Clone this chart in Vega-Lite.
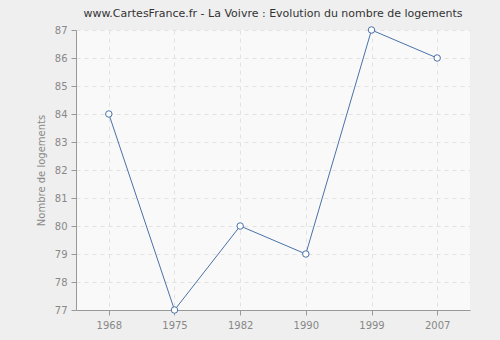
{
  "$schema": "https://vega.github.io/schema/vega-lite/v6.json",
  "width": 394,
  "height": 280,
  "autosize": {"type": "none"},
  "padding": {"left": 76, "top": 30, "right": 30, "bottom": 30},
  "background": "#efefef",
  "title": {
    "text": "www.CartesFrance.fr - La Voivre : Evolution du nombre de logements",
    "fontSize": 11,
    "font": "DejaVu Sans",
    "fontWeight": "normal",
    "color": "#333333",
    "anchor": "middle",
    "offset": 6
  },
  "data": {
    "values": [
      {"annee": "1968", "logements": 84},
      {"annee": "1975", "logements": 77},
      {"annee": "1982", "logements": 80},
      {"annee": "1990", "logements": 79},
      {"annee": "1999", "logements": 87},
      {"annee": "2007", "logements": 86}
    ]
  },
  "config": {
    "view": {"fill": "#f9f9f9", "stroke": null},
    "axis": {
      "labelFont": "DejaVu Sans",
      "labelFontSize": 10,
      "labelColor": "#888888",
      "domainColor": "#999999",
      "tickColor": "#999999",
      "tickSize": 5,
      "grid": true,
      "gridColor": "#e2e2e2",
      "gridDash": [4, 4],
      "labelOverlap": false,
      "titleFont": "DejaVu Sans",
      "titleFontWeight": "normal",
      "titleColor": "#888888",
      "titleFontSize": 10
    }
  },
  "encoding": {
    "x": {"field": "annee", "type": "ordinal", "scale": {"type": "point", "padding": 0.5}, "axis": {"title": null, "labelAngle": 0, "labelPadding": 5, "grid": true}},
    "y": {"field": "logements", "type": "quantitative", "scale": {"domain": [77, 87], "nice": false, "zero": false}, "axis": {"title": "Nombre de logements", "values": [77,78,79,80,81,82,83,84,85,86,87], "tickCount": 20, "format": "d", "labelOverlap": false, "labelPadding": 4, "titlePadding": 8}}
  },
  "layer": [
    {
      "mark": {"type": "line", "color": "#4a72a8", "strokeWidth": 1}
    },
    {
      "mark": {"type": "point", "filled": true, "fill": "#ffffff", "stroke": "#4a72a8", "strokeWidth": 1, "size": 42, "opacity": 1}
    }
  ]
}
